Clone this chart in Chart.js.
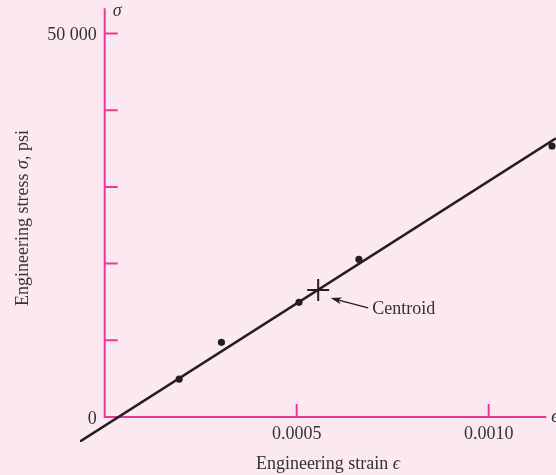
<!DOCTYPE html>
<html>
<head>
<meta charset="utf-8">
<script src="https://cdn.jsdelivr.net/npm/chart.js@4/dist/chart.umd.min.js"></script>
<style>
  html, body { margin: 0; padding: 0; background: #fce8f1; }
  #wrap { width: 556px; height: 475px; position: relative; }
  canvas { display: block; }
</style>
</head>
<body>
<div id="wrap"><canvas id="c" width="556" height="475"></canvas></div>
<script>
// ---- data ----
const strainPoints = [0.000194, 0.000304, 0.000506, 0.000662, 0.001165];
const stressPoints = [4950, 9740, 14950, 20560, 35330];
const fitStrain = [-0.000065, 0.001175];
const fitStress = [-3220, 36320];
const centroidStrain = [0.000556];
const centroidStress = [16560];
const yTickValues = [0, 10000, 20000, 30000, 40000, 50000];
const yTickLabels = ['0', '', '', '', '', '50 000'];
const xTickValues = [0.0005, 0.0010];
const xTickLabels = ['0.0005', '0.0010'];
const xAxisEnd = 0.00115;
const yAxisEnd = 53300;
const xTitleMain = 'Engineering strain ';
const yTitleA = 'Engineering stress ';
const yTitleB = '\u03c3';
const yTitleC = ', psi';
const epsChar = '\u03f5';
const centroidLabel = 'Centroid';

const PINK = '#e6399b';
const INK = '#231f20';
const TEXT = '#333333';
const FAM = '"Liberation Serif", "DejaVu Serif", "Times New Roman", serif';
const FONT = '18px ' + FAM;
const IFONT = 'italic 18px ' + FAM;

function mixedText(ctx, parts, x, y, align) {
  // parts: [[text, font], ...]
  let total = 0;
  parts.forEach(p => { ctx.font = p[1]; total += ctx.measureText(p[0]).width; });
  let sx = align === 'center' ? x - total / 2 : x;
  ctx.textAlign = 'left';
  parts.forEach(p => { ctx.font = p[1]; ctx.fillText(p[0], sx, y); sx += ctx.measureText(p[0]).width; });
}

const axesPlugin = {
  id: 'customAxes',
  beforeDatasetsDraw(chart) {
    const {ctx, scales: {x, y}} = chart;
    const x0 = x.getPixelForValue(0), y0 = y.getPixelForValue(0);
    ctx.save();
    ctx.strokeStyle = PINK;
    ctx.lineWidth = 2;
    ctx.beginPath();
    ctx.moveTo(x0, y.getPixelForValue(yAxisEnd));
    ctx.lineTo(x0, y0);
    ctx.lineTo(x.getPixelForValue(xAxisEnd), y0);
    yTickValues.forEach(v => {
      if (v === 0) return;
      const py = y.getPixelForValue(v);
      ctx.moveTo(x0, py); ctx.lineTo(x0 + 13, py);
    });
    xTickValues.forEach(v => {
      const px = x.getPixelForValue(v);
      ctx.moveTo(px, y0); ctx.lineTo(px, y0 - 13);
    });
    ctx.stroke();
    ctx.restore();
  },
  afterDraw(chart) {
    const {ctx, scales: {x, y}} = chart;
    const x0 = x.getPixelForValue(0), y0 = y.getPixelForValue(0);
    ctx.save();
    ctx.fillStyle = TEXT;
    ctx.font = FONT;
    ctx.textBaseline = 'alphabetic';
    // y tick labels
    ctx.textAlign = 'right';
    yTickValues.forEach((v, i) => {
      if (!yTickLabels[i]) return;
      ctx.fillText(yTickLabels[i], x0 - 8, y.getPixelForValue(v) + 6.5);
    });
    // x tick labels
    ctx.textAlign = 'center';
    xTickValues.forEach((v, i) => {
      ctx.fillText(xTickLabels[i], x.getPixelForValue(v), y0 + 22);
    });
    // x title
    mixedText(ctx, [[xTitleMain, FONT], [epsChar, IFONT]], 328, 469, 'center');
    // epsilon at x-axis end
    ctx.font = IFONT;
    ctx.textAlign = 'left';
    ctx.fillText(epsChar, x.getPixelForValue(xAxisEnd) + 5, y0 + 5);
    // sigma at y-axis top
    ctx.fillText('\u03c3', x0 + 8, y.getPixelForValue(yAxisEnd) + 8);
    // y title
    ctx.save();
    ctx.translate(28, 218);
    ctx.rotate(-Math.PI / 2);
    mixedText(ctx, [[yTitleA, FONT], [yTitleB, IFONT], [yTitleC, FONT]], 0, 0, 'center');
    ctx.restore();
    // centroid annotation with arrow
    const cx = x.getPixelForValue(centroidStrain[0]);
    const cy = y.getPixelForValue(centroidStress[0]);
    const tipX = cx + 12.5, tipY = cy + 8;
    const tailX = cx + 50, tailY = cy + 18;
    ctx.strokeStyle = INK;
    ctx.fillStyle = INK;
    ctx.lineWidth = 1.3;
    ctx.beginPath();
    ctx.moveTo(tailX, tailY);
    ctx.lineTo(tipX + 4, tipY + 1.1);
    ctx.stroke();
    const ang = Math.atan2(tipY - tailY, tipX - tailX);
    ctx.beginPath();
    ctx.moveTo(tipX, tipY);
    ctx.lineTo(tipX - 11 * Math.cos(ang) + 3.5 * Math.sin(ang), tipY - 11 * Math.sin(ang) - 3.5 * Math.cos(ang));
    ctx.lineTo(tipX - 8 * Math.cos(ang), tipY - 8 * Math.sin(ang));
    ctx.lineTo(tipX - 11 * Math.cos(ang) - 3.5 * Math.sin(ang), tipY - 11 * Math.sin(ang) + 3.5 * Math.cos(ang));
    ctx.closePath();
    ctx.fill();
    ctx.fillStyle = TEXT;
    ctx.font = FONT;
    ctx.textAlign = 'left';
    ctx.fillText(centroidLabel, tailX + 4, tailY + 6);
    ctx.restore();
  }
};

new Chart(document.getElementById('c'), {
  type: 'scatter',
  data: {
    datasets: [
      {
        type: 'line',
        data: fitStrain.map((v, i) => ({x: v, y: fitStress[i]})),
        borderColor: INK,
        borderWidth: 2.5,
        pointRadius: 0,
        showLine: true,
        fill: false,
        order: 3
      },
      {
        data: strainPoints.map((v, i) => ({x: v, y: stressPoints[i]})),
        backgroundColor: INK,
        borderColor: INK,
        pointRadius: 3.6,
        borderWidth: 0,
        order: 2
      },
      {
        data: centroidStrain.map((v, i) => ({x: v, y: centroidStress[i]})),
        pointStyle: 'cross',
        pointRadius: 11,
        borderColor: INK,
        borderWidth: 2,
        order: 1
      }
    ]
  },
  options: {
    responsive: false,
    animation: false,
    layout: { autoPadding: false, padding: { left: 80, right: 0, top: 8, bottom: 33 } },
    plugins: { legend: { display: false }, tooltip: { enabled: false } },
    scales: {
      x: { type: 'linear', display: false, min: -0.0000643, max: 0.0011753 },
      y: { type: 'linear', display: false, min: -3259, max: 53325 }
    }
  },
  plugins: [axesPlugin]
});
</script>
</body>
</html>
